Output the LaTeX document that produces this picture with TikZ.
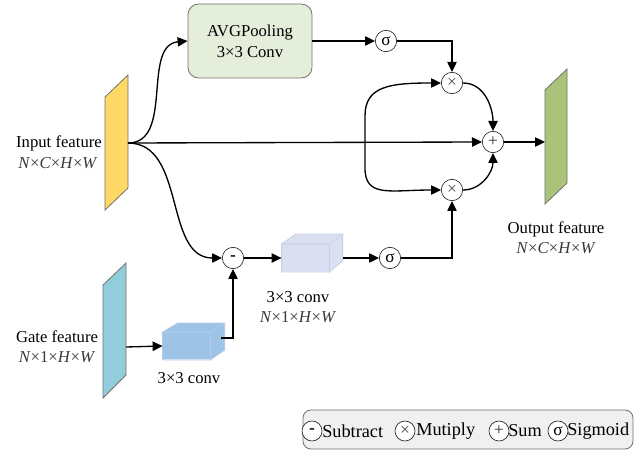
\documentclass[tikz,border=0pt]{standalone}
\usepackage{fontspec}
\setmainfont{Liberation Serif}
\usetikzlibrary{arrows.meta,calc}
\definecolor{inyellow}{HTML}{FFD966}
\definecolor{avggreen}{HTML}{E4EEDA}
\definecolor{outgreen}{HTML}{A9C47A}
\definecolor{gateblue}{HTML}{92CDDC}
\definecolor{lcube}{HTML}{DAE0F2}
\definecolor{lcubeedge}{HTML}{C8D0E8}
\definecolor{bcube}{HTML}{9DC3E6}
\definecolor{bcubeedge}{HTML}{B4CCEA}
\definecolor{edgegray}{HTML}{707070}
\definecolor{dimgray}{HTML}{3A3A3A}
\begin{document}
\begin{tikzpicture}[x=0.75pt,y=-0.75pt,
  conn/.style={line width=1pt,-{Triangle[length=7.5pt,width=7pt]}},
  op/.style={circle,draw=black!85,line width=0.5pt,minimum size=16pt,inner sep=0pt,fill=white,font=\fontsize{13}{13}\selectfont},
  lop/.style={op,minimum size=15pt},
  lbl/.style={font=\fontsize{12.5}{15}\selectfont,align=center,inner sep=0pt},
  dimlbl/.style={lbl,text=dimgray},
  lgd/.style={font=\fontsize{13.7}{15}\selectfont,anchor=west,inner sep=0pt},
  feat/.style={draw=edgegray,line width=0.6pt},
  cubefront/.style={minimum width=35.25pt,minimum height=20.25pt,inner sep=0pt,line width=0.6pt},
]
\useasboundingbox (0,0) rectangle (644,453);

% feature maps
\path[feat,fill=inyellow] (105,97) -- (128,75) -- (128,188) -- (105,210) -- cycle;
\path[feat,fill=outgreen] (545,90) -- (567,69) -- (567,183) -- (545,204) -- cycle;
\path[feat,fill=gateblue] (103,285) -- (126,263) -- (126,375) -- (103,398) -- cycle;
\coordinate (inpt) at (128,143);
\coordinate (outpt) at (545,142);
\coordinate (gatept) at (126,347);

% labels of feature maps
\node[lbl] (inlbl) at (59,143) {Input feature};
\node[dimlbl] (indim) at (58,163) {\textit{N}×\textit{C}×\textit{H}×\textit{W}};
\node[lbl] (outlbl) at (556,229) {Output feature};
\node[dimlbl] (outdim) at (556,248) {\textit{N}×\textit{C}×\textit{H}×\textit{W}};
\node[lbl] (gatelbl) at (57,337) {Gate feature};
\node[dimlbl] (gatedim) at (57,357) {\textit{N}×1×\textit{H}×\textit{W}};

% AVG pooling box
\node[draw=edgegray,fill=avggreen,rounded corners=8pt,line width=0.6pt,minimum width=93pt,minimum height=55.5pt,
      font=\fontsize{12.5}{15.7}\selectfont,align=center] (avg) at (250,41) {AVGPooling\\3×3 Conv};

% operators
\node[op] (s1) at (386,41) {σ};
\node[op] (mt) at (452,83) {\textcolor{black!70}{×}};
\node[op] (plus) at (493,142) {\textcolor{black!80}{+}};
\node[op] (mb) at (452,190) {\textcolor{black!70}{×}};
\node[op] (minus) at (233,258) {\textbf{-}};
\node[op] (s2) at (390,258) {σ};

% light cube
\node[cubefront,fill=lcube] (lc) at (305.5,258) {};
\path[fill=lcube,draw=lcubeedge,line width=0.6pt] (lc.north west) -- ++(14,-10) -- ++(47,0) -- ++(0,27) -- (lc.south east) -- (lc.north east) -- cycle;
\draw[lcubeedge,line width=0.6pt] (lc.north west) rectangle (lc.south east) (lc.north east) -- ++(14,-10);
\coordinate (lcR) at ($(lc.east)+(14,0)$);
\node[lbl] (lclbl) at (298,297) {3×3 conv};
\node[dimlbl] (lcdim) at (298,317) {\textit{N}×1×\textit{H}×\textit{W}};

% blue cube
\node[cubefront,fill=bcube] (bc) at (186.5,346) {};
\path[fill=bcube,draw=bcubeedge,line width=0.6pt] (bc.north west) -- ++(15,-9) -- ++(47,0) -- ++(0,27) -- (bc.south east) -- (bc.north east) -- cycle;
\draw[bcubeedge,line width=0.6pt] (bc.north west) rectangle (bc.south east) (bc.north east) -- ++(15,-9);
\coordinate (bcR) at (221,338);
\node[lbl] (bclbl) at (189,378) {3×3 conv};

% connectors
\coordinate (split) at (365,142);
\draw[conn] (inpt) to[out=0,in=185] (avg.west);
\draw[conn] (inpt) -- (plus.west);
\draw[conn] (inpt) to[out=0,in=180] (minus.west);
\draw[conn] (avg.east) -- (s1.west);
\draw[conn] (s1.east) -| (mt.north);
\draw[conn] (split) -- (365,116) .. controls (365,86) and (390,83) .. (mt.west);
\draw[conn] (split) -- (365,168) .. controls (365,198) and (390,190) .. (mb.west);
\draw[conn] (mt.east) to[out=0,in=90] (plus.north);
\draw[conn] (mb.east) to[out=0,in=-90] (plus.south);
\draw[conn] (plus.east) -- (outpt);
\draw[conn] (gatept) -- (bc.west);
\draw[conn] (bcR) -| (minus.south);
\draw[conn] (minus.east) -- (lc.west);
\draw[conn] (lcR) -- (s2.west);
\draw[conn] (s2.east) -| (mb.south);

% legend
\node[draw=edgegray,fill=black!6,rounded corners=6pt,line width=0.6pt,minimum width=247.5pt,minimum height=29.25pt,inner sep=0pt] (legend) at (468,429.5) {};
\node[lop] (lminus) at (312,431) {\textbf{-}};
\node[lgd] (lsub) at (322,431) {Subtract};
\node[lop] (ltimes) at (405,431) {\textcolor{black!70}{×}};
\node[lgd] (lmul) at (416,431) {Mutiply};
\node[lop] (lplus) at (499,431) {\textcolor{black!80}{+}};
\node[lgd] (lsum) at (508,431) {Sum};
\node[lop] (lsig) at (558,431) {σ};
\node[lgd] (lsigt) at (567,431) {Sigmoid};
\end{tikzpicture}
\end{document}
